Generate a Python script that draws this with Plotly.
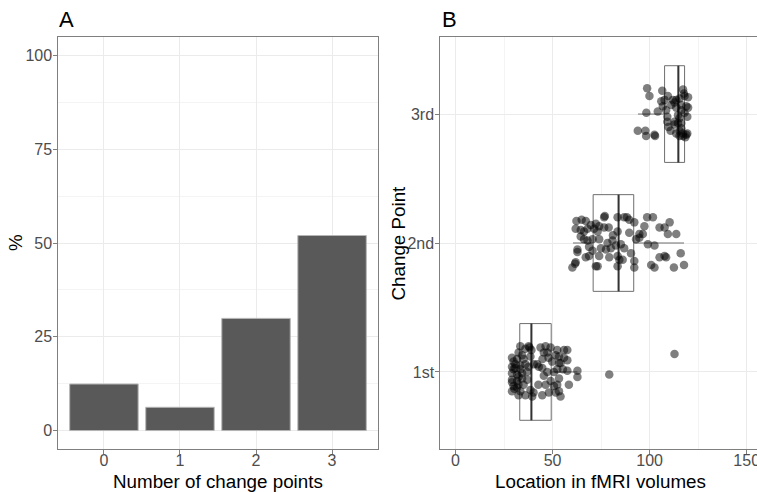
import plotly.graph_objects as go

# ---------------- data ----------------
n_cp = [0, 1, 2, 3]
pct = [12.4, 6.2, 29.9, 52.0]

cp_labels = ["1st", "2nd", "3rd"]
cp_pos = [1, 2, 3]

# box statistics (location in fMRI volumes)
box_low = [29.0, 60.5, 94.0]
box_q1 = [33.1, 70.9, 107.7]
box_med = [39.1, 84.0, 114.8]
box_q3 = [49.3, 91.8, 118.0]
box_high = [62.8, 117.7, 119.5]

# jittered points: location and jittered change-point position
loc1 = [33.4, 36.0, 38.1, 39.1, 32.5, 34.3, 29.9, 31.7, 35.1, 29.1, 30.8, 33.4, 36.0, 40.3, 42.9, 44.7,
        29.1, 31.7, 34.3, 36.9, 29.1, 31.7, 34.3, 29.9, 31.7, 35.1, 29.1, 32.5, 36.0, 38.6, 39.5, 43.8,
        46.4, 49.0, 47.3, 51.6, 49.8, 53.3, 47.3, 50.7, 45.5, 49.0, 50.7, 46.4, 48.1, 44.7, 51.6, 52.4,
        55.9, 57.6, 53.3, 55.9, 57.6, 52.4, 55.3, 57.6, 62.8, 62.8, 53.3, 52.4, 58.4, 53.3, 54.1, 79.2,
        112.8, 29.1, 29.9, 30.8, 32.5, 29.1, 30.3, 33.4, 32.4, 37.0, 37.6, 38.6, 42.1, 42.7, 40.2, 44.8,
        47.9, 54.1, 37.7, 45.5, 33.4]
pos1 = [1.20, 1.18, 1.19, 1.17, 1.15, 1.13, 1.08, 1.10, 1.10, 1.04, 1.03, 1.05, 1.06, 1.06, 1.04, 1.03,
        0.99, 0.98, 0.99, 1.00, 0.94, 0.93, 0.95, 0.89, 0.88, 0.90, 0.85, 0.82, 0.82, 0.86, 0.81, 1.19,
        1.20, 1.19, 1.15, 1.13, 1.08, 1.07, 1.00, 1.00, 0.97, 0.93, 0.89, 0.90, 0.84, 0.82, 0.84, 1.17,
        1.17, 1.17, 1.12, 1.11, 1.09, 1.02, 1.02, 1.01, 1.01, 0.96, 0.95, 0.90, 0.90, 0.85, 0.81, 0.98,
        1.14, 1.11, 1.02, 1.06, 0.96, 0.92, 0.87, 1.02, 0.90, 0.94, 1.04, 1.12, 1.06, 0.90, 0.84, 1.10,
        1.11, 1.07, 1.20, 1.15, 0.85]

loc2 = [62.3, 65.0, 67.1, 61.9, 64.5, 66.2, 68.0, 69.7, 72.3, 71.4, 74.0, 73.2, 76.6, 78.9, 76.6, 83.5,
        83.5, 64.5, 66.2, 68.0, 70.6, 74.0, 78.3, 80.9, 62.8, 62.8, 68.8, 70.6, 74.9, 77.5, 80.0, 82.6,
        85.2, 68.8, 67.1, 74.0, 79.2, 83.5, 84.4, 61.9, 60.2, 73.2, 83.5, 86.9, 89.5, 92.1, 98.7, 101.7,
        97.3, 110.3, 105.1, 107.7, 109.4, 113.7, 89.5, 94.7, 96.5, 93.0, 94.7, 99.1, 102.5, 86.9, 90.4,
        105.1, 107.7, 108.5, 116.0, 92.1, 100.8, 102.5, 112.5, 117.7, 86.1, 92.1, 61.6, 72.3, 88.3, 76.9,
        81.1]
pos2 = [2.17, 2.18, 2.17, 2.11, 2.10, 2.09, 2.11, 2.14, 2.15, 2.11, 2.13, 2.09, 2.20, 2.12, 2.12, 2.20,
        2.09, 2.05, 2.03, 2.02, 2.03, 2.03, 2.00, 2.02, 1.95, 1.93, 1.97, 1.94, 1.96, 1.95, 1.96, 1.98,
        1.99, 1.90, 1.89, 1.90, 1.89, 1.90, 1.87, 1.85, 1.81, 1.82, 1.82, 2.20, 2.18, 2.16, 2.20, 2.20,
        2.13, 2.16, 2.12, 2.12, 2.07, 2.07, 2.08, 2.07, 2.07, 2.03, 2.04, 1.99, 1.98, 1.96, 1.92,
        1.89, 1.90, 1.89, 1.92, 1.86, 1.83, 1.81, 1.81, 1.83, 1.87, 1.81, 1.84, 1.82, 2.20, 2.21,
        2.06]

loc3 = [98.7, 99.9, 106.5, 109.4, 98.3, 93.9, 97.8, 98.2, 102.5, 102.8, 104.2, 106.0, 106.8, 109.1, 109.1,
        109.7, 110.8, 112.0, 113.7, 115.4, 117.2, 118.0, 119.8, 118.9, 119.8, 118.0, 119.4, 116.3, 114.6,
        112.8, 114.6, 116.3, 112.8, 113.7, 115.4, 117.2, 118.9, 117.2, 118.4, 115.4, 112.8, 111.1, 116.3,
        117.7, 107.7, 108.5, 113.7, 115.4, 116.3, 119.4]
pos3 = [3.20, 3.14, 3.18, 3.14, 3.01, 2.87, 2.87, 2.83, 2.84, 2.83, 3.02, 3.10, 3.06, 2.98, 2.94,
        2.90, 2.87, 3.11, 3.11, 3.12, 3.19, 3.14, 3.13, 3.06, 3.05, 3.01, 2.98, 3.03, 2.99,
        2.94, 2.93, 2.93, 2.92, 2.85, 2.87, 2.85, 2.84, 2.83, 2.82, 2.83, 3.09, 3.07, 3.07,
        3.16, 3.11, 3.03, 3.05, 2.97, 2.89, 2.85]

x_ticks_b = [0, 50, 100, 150]
x_minor_b = [25, 75, 125]
y_ticks_a = [0, 25, 50, 75, 100]
y_minor_a = [12.5, 37.5, 62.5, 87.5]

# ---------------- figure ----------------
W, H = 757, 492
FONT = "Liberation Sans, Arial, sans-serif"
BORDER = "#7f7f7f"
GRID = "#ebebeb"
MINOR = "#f4f4f4"
TICKC = "#4d4d4d"

fig = go.Figure()

fig.add_trace(go.Bar(
    x=n_cp, y=pct, width=0.9,
    marker=dict(color="#595959", line=dict(color="#b5b5b5", width=1)),
    xaxis="x", yaxis="y", showlegend=False, hoverinfo="skip"))

fig.add_trace(go.Box(
    y=cp_pos, q1=box_q1, median=box_med, q3=box_q3,
    lowerfence=box_low, upperfence=box_high,
    orientation="h", width=0.75, whiskerwidth=0,
    fillcolor="white", line=dict(color="#6e6e6e", width=1),
    boxpoints=False, xaxis="x2", yaxis="y2", showlegend=False, hoverinfo="skip"))

# thicker median lines
for m, p in zip(box_med, cp_pos):
    fig.add_trace(go.Scatter(
        x=[m, m], y=[p - 0.375, p + 0.375], mode="lines",
        line=dict(color="#333333", width=2),
        xaxis="x2", yaxis="y2", showlegend=False, hoverinfo="skip"))

for lx, ly in [(loc1, pos1), (loc2, pos2), (loc3, pos3)]:
    fig.add_trace(go.Scatter(
        x=lx, y=ly, mode="markers",
        marker=dict(color="rgba(0,0,0,0.5)", size=8.5, line=dict(width=0)),
        xaxis="x2", yaxis="y2", showlegend=False, hoverinfo="skip"))

ydom = [1 - 449.3 / H, 1 - 36.7 / H]

axis_common = dict(
    showline=True, linecolor=BORDER, linewidth=1, zeroline=False,
    ticks="outside", ticklen=4, tickcolor=BORDER, tickwidth=1,
    tickfont=dict(family=FONT, size=16, color=TICKC),
    showgrid=True, gridcolor=GRID, gridwidth=1, automargin=False,
    ticklabeloverflow="allow",
)

fig.update_layout(
    width=W, height=H,
    margin=dict(l=0, r=0, t=0, b=0, autoexpand=False),
    paper_bgcolor="white", plot_bgcolor="white",
    font=dict(family=FONT),
    xaxis=dict(domain=[58.3 / W, 377.7 / W], range=[-0.6, 3.6],
               tickvals=n_cp, ticktext=[str(v) for v in n_cp], mirror=True,
               anchor="y", ticklabelstandoff=-8, **axis_common),
    yaxis=dict(domain=ydom, range=[-5, 105], tickvals=y_ticks_a, mirror=True,
               minor=dict(tickvals=y_minor_a, showgrid=True, gridcolor=MINOR, ticks=""),
               anchor="x", ticklabelstandoff=-2, **axis_common),
    xaxis2=dict(domain=[440.3 / W, 1.0], range=[-7.83, 155.3],
                tickvals=x_ticks_b, mirror=True,
                minor=dict(tickvals=x_minor_b, showgrid=True, gridcolor=MINOR, ticks=""),
                anchor="y2", ticklabelstandoff=-8, **axis_common),
    yaxis2=dict(domain=ydom, range=[0.4, 3.6], tickvals=cp_pos, ticktext=cp_labels,
                mirror=False, anchor="x2", ticklabelstandoff=-2, **axis_common),
)

def ann(text, x, y, size, angle=0, xanchor="center", yanchor="middle"):
    fig.add_annotation(text=text, x=x / W, y=1 - y / H, xref="paper", yref="paper",
                       showarrow=False, textangle=angle, xanchor=xanchor, yanchor=yanchor,
                       font=dict(family=FONT, size=size, color="black"))

ann("A", 57, 19.5, 22, xanchor="left")
ann("B", 439.5, 19.5, 22, xanchor="left")
ann("%", 15, 243, 18.8, angle=-90)
ann("Change Point", 397.5, 243, 18.8, angle=-90)
ann("Number of change points", 218, 481, 18.8)
ann("Location in fMRI volumes", 600, 481, 18.8)

fig.write_html("out.html", config={"displayModeBar": False},
               post_script="document.body.style.margin='0px';document.body.style.overflow='hidden';")
